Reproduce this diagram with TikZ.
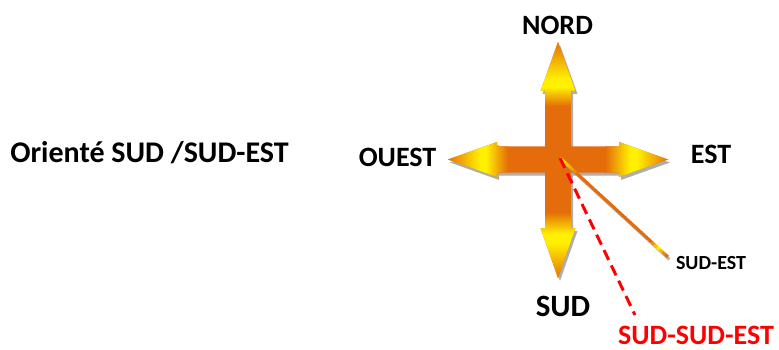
\documentclass[tikz,border=0pt]{standalone}
\usepackage{fontspec}
\setmainfont{Carlito}
\usetikzlibrary{calc}
\definecolor{arrorange}{RGB}{228,108,10}
\definecolor{arryellow}{RGB}{255,240,0}
\definecolor{sudred}{RGB}{255,0,0}
\definecolor{shadowgray}{RGB}{140,140,140}
\newcommand\crossoutline{(558,42) -- (575.5,91) -- (571,91) -- (571,146.5) -- (619,146.5) -- (619,142) -- (668,159.5) -- (619,177) -- (619,172.5) -- (571,172.5) -- (571,228) -- (575.5,228) -- (558,278) -- (540.5,228) -- (545,228) -- (545,172.5) -- (497,172.5) -- (497,177) -- (448,159.5) -- (497,142) -- (497,146.5) -- (545,146.5) -- (545,91) -- (540.5,91) -- cycle}
\begin{document}
\begin{tikzpicture}[x=1pt,y=-1pt,
  lbl/.style={font=\bfseries\fontsize{28}{34}\selectfont, inner sep=0pt, anchor=base},
  smalllbl/.style={font=\bfseries\fontsize{20}{24}\selectfont, inner sep=0pt, anchor=base},
  shadowline/.style={shadowgray, line width=3pt, opacity=0.6},
  dashline/.style={sudred, line width=3pt, dash pattern=on 11pt off 6pt},
]
\useasboundingbox (0,0) rectangle (779,350);
% shadow of the cross
\fill[shadowgray, opacity=0.7, shift={(2,3)}] \crossoutline;
\fill[arrorange] \crossoutline;
\begin{scope}
  \clip \crossoutline;
  % top arrow
  \shade[top color=arrorange, bottom color=arryellow] (530,40) rectangle (590,79);
  \fill[arryellow] (530,79) rectangle (590,87);
  \shade[top color=arryellow, bottom color=arrorange] (530,87) rectangle (590,106);
  % bottom arrow
  \shade[top color=arrorange, bottom color=arryellow] (530,212) rectangle (590,234);
  \fill[arryellow] (530,234) rectangle (590,243);
  \shade[top color=arryellow, bottom color=arrorange] (530,243) rectangle (590,280);
  % left arrow
  \shade[left color=arrorange, right color=arryellow] (446,135) rectangle (480,185);
  \fill[arryellow] (480,135) rectangle (486,185);
  \shade[left color=arryellow, right color=arrorange] (486,135) rectangle (508,185);
  % right arrow
  \shade[left color=arrorange, right color=arryellow] (605,135) rectangle (630,185);
  \fill[arryellow] (630,135) rectangle (637,185);
  \shade[left color=arryellow, right color=arrorange] (637,135) rectangle (670,185);
\end{scope}
% connectors
\coordinate (c) at (560,158);
\coordinate (seend) at (668,257);
\coordinate (sseend) at (635,315);
\draw[shadowline] ([shift={(1.5,2.5)}]c) -- ([shift={(1.5,2.5)}]seend);
\foreach \i in {0,...,39}{
  \pgfmathsetmacro\ta{\i/40}
  \pgfmathsetmacro\tb{min((\i+1)/40+0.006,1)}
  \pgfmathsetmacro\tm{(\i+0.5)/40}
  \pgfmathtruncatemacro\p{100*max(0,1-abs(\tm-0.02)/0.15)+100*max(0,1-abs(\tm-0.91)/0.07)}
  \draw[arryellow!\p!arrorange, line width=3pt, line cap=butt] ($(c)!\ta!(seend)$) -- ($(c)!\tb!(seend)$);
}
\draw[dashline] (c) -- (sseend);
% labels
\node[lbl, font=\bfseries\fontsize{30}{36}\selectfont] (orient) at (149.5,162) {Orienté SUD /SUD-EST};
\node[lbl] (nord) at (557.5,35) {NORD};
\node[lbl] (ouest) at (397.5,166) {OUEST};
\node[lbl] (est) at (711,164) {EST};
\node[lbl, font=\bfseries\fontsize{31}{36}\selectfont] (sud) at (563,316) {SUD};
\node[smalllbl] (se) at (711,269) {SUD-EST};
\node[lbl, text=sudred] (sse) at (696,344.5) {SUD-SUD-EST};
\end{tikzpicture}
\end{document}
